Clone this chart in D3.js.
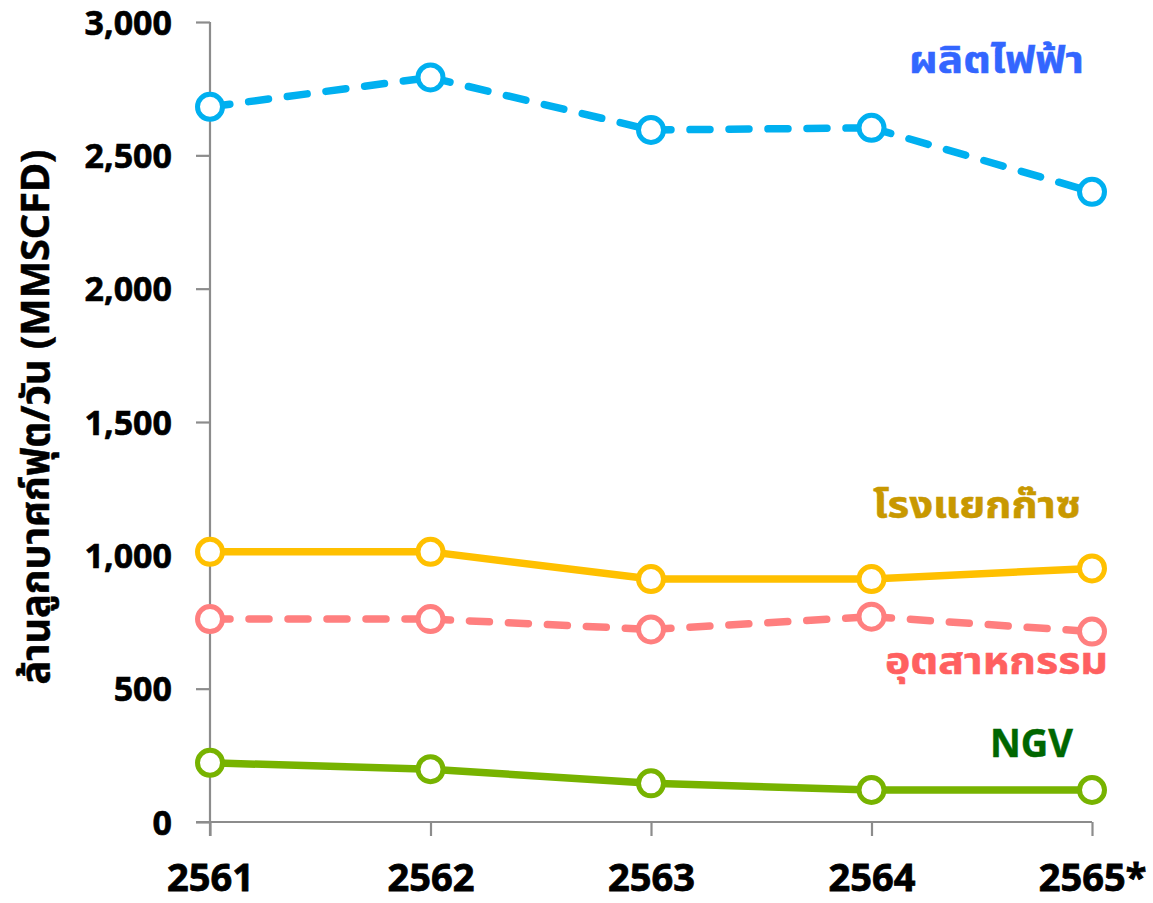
<!DOCTYPE html>
<html>
<head>
<meta charset="utf-8">
<script src="https://cdn.jsdelivr.net/npm/d3@7"></script>
<style>
  html, body { margin: 0; padding: 0; background: #fff; }
  svg { display: block; }
  text { font-family: "Noto Sans", "Noto Sans Thai", "Open Sans", sans-serif; font-weight: bold; }
</style>
</head>
<body>
<svg id="chart" width="1153" height="903"></svg>
<script>
const years = ["2561", "2562", "2563", "2564", "2565*"];
const yTicks = [0, 500, 1000, 1500, 2000, 2500, 3000];

const power      = [2682, 2792, 2595, 2603, 2363];  // ผลิตไฟฟ้า
const gasPlant   = [1013, 1013, 911, 911, 951];     // โรงแยกก๊าซ
const industry   = [761, 761, 722, 770, 714];       // อุตสาหกรรม
const ngv        = [222, 198, 145, 120, 120];       // NGV

const seriesNames = ["ผลิตไฟฟ้า", "โรงแยกก๊าซ", "อุตสาหกรรม", "NGV"];
const yTitle = "ล้านลูกบาศก์ฟุต/วัน (MMSCFD)";

const series = [
  { name: seriesNames[0], values: power,    color: "#00B0F0", labelColor: "#3366FF", dashed: true,  lx: 909, ly: 73,  lw: 175 },
  { name: seriesNames[1], values: gasPlant, color: "#FFC000", labelColor: "#C89800", dashed: false, lx: 873, ly: 518, lw: 208 },
  { name: seriesNames[2], values: industry, color: "#FF7F7F", labelColor: "#FF6060", dashed: true,  lx: 885, ly: 674, lw: 223 },
  { name: seriesNames[3], values: ngv,      color: "#77B300", labelColor: "#006600", dashed: false, lx: 990, ly: 757, lw: 83 }
];

const svg = d3.select("#chart");
const x = d3.scalePoint().domain(years).range([210, 1092]);
const y = d3.scaleLinear().domain([0, 3000]).range([822, 22]);
const axisColor = "#8C8C8C";

// Y axis
const yAxis = svg.append("g").attr("transform", "translate(210,0)")
  .call(d3.axisLeft(y).tickValues(yTicks).tickSize(14).tickPadding(24).tickFormat(d3.format(",")));
yAxis.select(".domain").remove();
yAxis.selectAll(".tick line").attr("stroke", axisColor).attr("stroke-width", 2.2);
yAxis.selectAll(".tick text").attr("fill", "#000").style("font-size", "34px").attr("dy", "0.36em")
  .style("stroke", "#000").style("stroke-width", 0.6);
svg.append("line").attr("x1", 210).attr("x2", 210).attr("y1", y(3000)).attr("y2", 836)
  .attr("stroke", axisColor).attr("stroke-width", 2.2);

// X axis
const xAxis = svg.append("g").attr("transform", "translate(0,822)")
  .call(d3.axisBottom(x).tickSize(14));
xAxis.select(".domain").remove();
xAxis.selectAll(".tick line").attr("stroke", axisColor).attr("stroke-width", 2.2);
xAxis.selectAll(".tick text").attr("fill", "#000").style("font-size", "38px")
  .attr("y", 69).attr("dy", 0)
  .style("stroke", "#000").style("stroke-width", 0.8);
svg.append("line").attr("x1", 196).attr("x2", 1092).attr("y1", 822).attr("y2", 822)
  .attr("stroke", axisColor).attr("stroke-width", 2.2);

// Y title
svg.append("text")
  .attr("transform", "translate(49,417) rotate(-90)")
  .attr("text-anchor", "middle")
  .attr("fill", "#000")
  .style("font-size", "39px")
  .style("stroke", "#000").style("stroke-width", 0.5)
  .attr("textLength", 535).attr("lengthAdjust", "spacingAndGlyphs")
  .text(yTitle);

// Lines and markers
series.forEach(s => {
  const g = svg.append("g");
  for (let i = 0; i < years.length - 1; i++) {
    g.append("line")
      .attr("x1", x(years[i])).attr("y1", y(s.values[i]))
      .attr("x2", x(years[i + 1])).attr("y2", y(s.values[i + 1]))
      .attr("stroke", s.color).attr("stroke-width", 7.5)
      .attr("stroke-linecap", "round")
      .attr("stroke-dasharray", s.dashed ? "20 19" : null);
  }
  g.selectAll("circle").data(s.values).join("circle")
    .attr("cx", (d, i) => x(years[i]))
    .attr("cy", d => y(d))
    .attr("r", 12.5)
    .attr("fill", "#fff")
    .attr("stroke", s.color)
    .attr("stroke-width", 5);
  svg.append("text")
    .attr("x", s.lx).attr("y", s.ly)
    .attr("fill", s.labelColor)
    .style("stroke", s.labelColor).style("stroke-width", 0.5)
    .style("font-size", s.name === "NGV" ? "39px" : "37px")
    .attr("textLength", s.lw).attr("lengthAdjust", "spacingAndGlyphs")
    .text(s.name);
});
</script>
</body>
</html>
